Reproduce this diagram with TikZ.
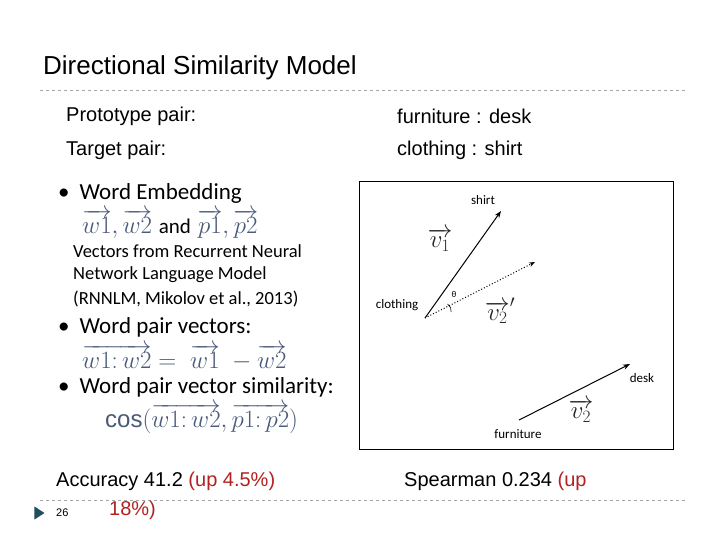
\documentclass[tikz,border=0pt]{standalone}
\usepackage{fontspec}
\setmainfont{Liberation Sans}
\newfontfamily\gillfont{Carlito}
\newfontfamily\mathf{Liberation Serif}
\usetikzlibrary{arrows.meta,shapes.geometric}
\definecolor{mathc}{HTML}{4A5A7A}
\definecolor{redt}{HTML}{B22222}
\definecolor{teal}{HTML}{1F4E5F}
\tikzset{
  body/.style={anchor=west,font=\fontsize{20}{22}\selectfont,inner sep=0pt},
  bul/.style={anchor=west,font=\gillfont\fontsize{23}{26}\selectfont,inner sep=0pt},
  sm/.style={anchor=west,font=\gillfont\fontsize{18.5}{21}\selectfont,inner sep=0pt},
  mth/.style={anchor=west,font=\fontsize{24}{26}\selectfont,inner sep=0pt,text=mathc},
  lbl/.style={font=\gillfont\fontsize{13}{14}\selectfont,inner sep=0pt},
  vlab/.style={font=\fontsize{26}{28}\selectfont,inner sep=0pt,text=black!85},
  rule/.style={draw=gray!70,dashed,line width=0.6pt}
}
\begin{document}
\begin{tikzpicture}[x=1pt,y=-1pt]
\useasboundingbox[fill=white] (0,0) rectangle (720,540);
\node[anchor=west,font=\fontsize{26}{28}\selectfont,inner sep=0pt] (title) at (43,68) {Directional Similarity Model};
\coordinate (r1a) at (40,90); \coordinate (r1b) at (686,90);
\draw[rule] (r1a) -- (r1b);
\coordinate (r2a) at (40,500); \coordinate (r2b) at (686,500);
\draw[rule] (r2a) -- (r2b);
\node[body] (pp) at (66,116) {Prototype pair:};
\node[body] (tp) at (66,150) {Target pair:};
\node[body] (fd) at (397,116) {furniture : desk};
\node[body] (cs) at (397,150) {clothing : shirt};
% bullets
\node[bul] (b1) at (58,193) {•\hspace{10pt}Word Embedding};
\node[mth] (m1) at (82,224) {$\overrightarrow{w1},\overrightarrow{w2}$ \textcolor{black}{\gillfont\fontsize{21}{24}\selectfont and} $\overrightarrow{p1},\overrightarrow{p2}$};
\node[sm] (s1) at (73,251) {Vectors from Recurrent Neural};
\node[sm] (s2) at (73,275) {Network Language Model};
\node[sm] (s3) at (73,299) {(RNNLM, Mikolov et al., 2013)};
\node[bul] (b2) at (58,327) {•\hspace{10pt}Word pair vectors:};
\node[mth] (m2) at (82,357) {$\overrightarrow{w1{:}\,w2}=\;\overrightarrow{w1}\;-\overrightarrow{w2}$};
\node[bul] (b3) at (58,387) {•\hspace{10pt}Word pair vector similarity:};
\node[mth] (m3) at (105,419) {$\mathrm{cos}(\overrightarrow{w1{:}\,w2},\overrightarrow{p1{:}\,p2})$};
% figure
\node[draw=black,line width=0.8pt,minimum width=314pt,minimum height=268pt,anchor=north west,inner sep=0pt] (box) at (359,181) {};
\coordinate (clo) at (425,318);
\coordinate (shi) at (501,211);
\coordinate (dot) at (535,262);
\coordinate (fur) at (519,420);
\coordinate (dsk) at (630,364);
\draw[line width=1pt,-{Stealth[length=7pt]}] (clo) -- (shi);
\draw[line width=1pt,dotted,-{Stealth[length=6pt]}] (clo) -- (dot);
\draw[line width=1pt,-{Stealth[length=7pt]}] (fur) -- (dsk);
\node[lbl] (lshirt) at (483,200) {shirt};
\node[lbl] (lclo) at (397,305) {clothing};
\node[lbl] (lth) at (454,294) {\fontsize{9}{10}\selectfont θ};
\node[lbl] (lfur) at (518,434) {furniture};
\node[lbl] (ldesk) at (642,378) {desk};
\node[vlab] (v1) at (440,240) {$\overrightarrow{v_1}$};
\node[vlab] (v2p) at (500,311) {$\overrightarrow{v_2}'$};
\node[vlab] (v2) at (581,411) {$\overrightarrow{v_2}$};
\draw[line width=0.6pt] (447.5,304) arc[start angle=-58, end angle=10, radius=8];
% bottom
\node[body,font=\fontsize{20}{22}\selectfont] (acc) at (56,481) {Accuracy 41.2 \textcolor{redt}{(up 4.5\%)}};
\node[body,font=\fontsize{20}{22}\selectfont,text=redt] (acc2) at (109,510) {18\%)};
\node[body,font=\fontsize{20}{22}\selectfont] (sp) at (404,481) {Spearman 0.234 \textcolor{redt}{(up}};
\node[fill=teal,isosceles triangle,inner sep=0pt,minimum width=13pt,minimum height=10pt,isosceles triangle stretches] (tri) at (38,513) {};
\node[anchor=west,font=\fontsize{11}{12}\selectfont,inner sep=0pt] (pg) at (56,513) {26};
\end{tikzpicture}
\end{document}
